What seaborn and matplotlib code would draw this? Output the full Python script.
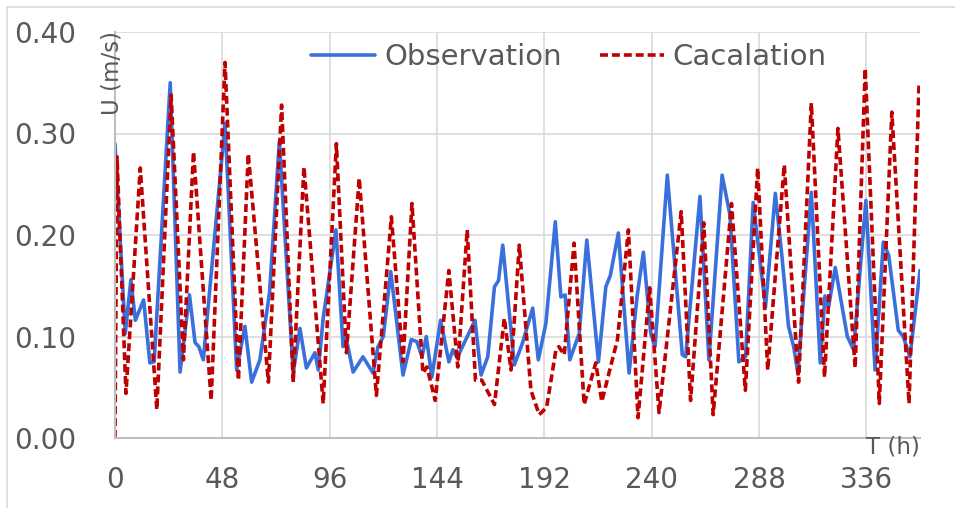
import numpy as np
import pandas as pd
import matplotlib
matplotlib.use("Agg")
import matplotlib.pyplot as plt
import seaborn as sns
from matplotlib.patches import Rectangle

# ---------------- data ----------------
obs_t = [0, 4.6, 7.1, 9.1, 12.8, 15.6, 17.5, 24.7, 29.1, 33.3, 35.8, 37.5, 39.5,
         49.2, 54.4, 58.1, 61.1, 64.8, 69.1, 73.5, 79.7, 82.7, 85.6, 89.4, 90.9,
         93.1, 98.8, 102, 103.2, 106.5, 110.9, 115.4, 117.6, 120.0, 123.3, 128.8,
         132.5, 135.0, 137.3, 139.2, 141.7, 145.6, 149.3, 151.1, 153, 161, 163.7,
         166.7, 169.7, 171.5, 173.4, 178.6, 182.3, 186.8, 189.3, 192.7, 196.9,
         199.4, 201.3, 203.4, 205.5, 207.6, 211, 216.2, 219.5, 221.5, 225.1,
         229.9, 233.5, 236.3, 239.6, 241.5, 247, 253.7, 255.2, 261.6, 265.6,
         271.5, 275, 279, 282, 285.4, 290.9, 295.3, 298.3, 301.2, 303.5, 305.4,
         311.4, 315.4, 317.5, 319.1, 322.1, 327.5, 330.3, 335.8, 339.9, 343.6,
         346, 350.3, 352.5, 355.5, 360]
obs_u = [0.29, 0.103, 0.156, 0.116, 0.136, 0.074, 0.075, 0.35, 0.065, 0.141, 0.094, 0.09, 0.077,
         0.31, 0.067, 0.11, 0.055, 0.077, 0.143, 0.292, 0.064, 0.108, 0.069, 0.084, 0.067,
         0.118, 0.205, 0.09, 0.1, 0.065, 0.08, 0.064, 0.09, 0.10, 0.164, 0.062,
         0.097, 0.095, 0.08, 0.1, 0.06, 0.116, 0.075, 0.087, 0.079, 0.116, 0.062,
         0.08, 0.149, 0.155, 0.19, 0.072, 0.094, 0.128, 0.077, 0.113, 0.213,
         0.139, 0.141, 0.077, 0.09, 0.103, 0.195, 0.075, 0.149, 0.16, 0.202,
         0.064, 0.14, 0.183, 0.103, 0.09, 0.259, 0.082, 0.08, 0.238, 0.077,
         0.259, 0.22, 0.075, 0.08, 0.232, 0.129, 0.241, 0.178, 0.11, 0.09, 0.064,
         0.242, 0.074, 0.14, 0.129, 0.168, 0.1, 0.087, 0.234, 0.067, 0.193,
         0.18, 0.106, 0.1, 0.08, 0.165]

cal_t = [0, 0.9, 4.9, 11.3, 18.7, 25.1, 30.6, 35.1, 43, 49.2, 55.2, 59.6, 68.6,
         74.5, 79.7, 84.5, 93.1, 99, 103.5, 109.2, 116.9, 123.6, 128.8, 132.8,
         137.7, 139.5, 143.2, 149.3, 153.3, 157.5, 161.2, 164, 169.7, 174.1,
         177.1, 180.8, 186, 189.7, 193, 197.2, 198.5, 200.9, 205.3, 209.8, 215,
         217.7, 224.7, 229.6, 233.9, 239.1, 243.3, 253.2, 257.4, 263.3, 267.5,
         275.7, 281.9, 287.4, 291.9, 299.3, 305.7, 311.4, 317.3, 323.3, 331,
         335.5, 341.8, 347.4, 355.1, 359.6]
cal_u = [0.0, 0.277, 0.044, 0.266, 0.028, 0.338, 0.077, 0.282, 0.037, 0.37, 0.057, 0.28, 0.055,
         0.328, 0.055, 0.267, 0.034, 0.29, 0.084, 0.256, 0.042, 0.218, 0.075, 0.231,
         0.064, 0.07, 0.037, 0.165, 0.07, 0.205, 0.057, 0.057, 0.033, 0.118,
         0.067, 0.19, 0.047, 0.023, 0.03, 0.087, 0.09, 0.082, 0.192, 0.033, 0.074,
         0.036, 0.097, 0.205, 0.02, 0.148, 0.025, 0.223, 0.037, 0.212, 0.023,
         0.231, 0.047, 0.266, 0.067, 0.269, 0.055, 0.33, 0.06, 0.305, 0.069,
         0.364, 0.034, 0.321, 0.034, 0.351]

series_names = ["Observation", "Cacalation"]
x_ticks = [0, 48, 96, 144, 192, 240, 288, 336]
y_ticks = [0.0, 0.1, 0.2, 0.3, 0.4]

df = pd.concat([
    pd.DataFrame({"T": obs_t, "U": obs_u, "series": series_names[0]}),
    pd.DataFrame({"T": cal_t, "U": cal_u, "series": series_names[1]}),
], ignore_index=True)

# ---------------- figure ----------------
sns.set_theme(style="white")
plt.rcParams["font.family"] = ["DejaVu Sans"]

fig = plt.figure(figsize=(9.55, 5.08), dpi=100)
ax = fig.add_axes([115/955, 1-438/508, 805/955, 406/508])

# outer chart border
fig.patches.append(Rectangle((7/955, -0.05), 1.1, 1-7/508+0.05, transform=fig.transFigure,
                             fill=False, edgecolor="#D9D9D9", linewidth=1.2))

grey = "#595959"
palette = {"Observation": "#3A70DC", "Cacalation": "#C00000"}
dashes = {"Observation": "", "Cacalation": (2.2, 1.1)}

sns.lineplot(data=df, x="T", y="U", hue="series", style="series",
             palette=palette, dashes=dashes, estimator=None, sort=False,
             linewidth=2.6, ax=ax, legend=True)

ax.set_xlim(0, 360)
ax.set_ylim(0, 0.40)
ax.set_xticks(x_ticks)
ax.set_yticks(y_ticks)
ax.set_yticklabels([f"{v:.2f}" for v in y_ticks])
ax.grid(True, color="#D9D9D9", linewidth=1.2)
ax.set_axisbelow(True)
for s in ["top", "right"]:
    ax.spines[s].set_visible(False)
for s in ["left", "bottom"]:
    ax.spines[s].set_color("#BFBFBF")
    ax.spines[s].set_linewidth(1.5)
ax.tick_params(axis="x", length=0, pad=20, labelsize=20, labelcolor=grey)
ax.tick_params(axis="y", length=0, pad=28, labelsize=20, labelcolor=grey)
ax.set_xlabel("")
ax.set_ylabel("")

ax.text(-0.004, 0.90, "U (m/s)", transform=ax.transAxes, rotation=90,
        ha="center", va="center", fontsize=16.5, color=grey)
ax.text(1.0, -0.022, "T (h)", transform=ax.transAxes,
        ha="right", va="center", fontsize=16.5, color=grey)

leg = ax.legend(loc="center", bbox_to_anchor=(0.564, 0.938), ncol=2, frameon=False,
                fontsize=21, handlelength=2.2, handletextpad=0.3, columnspacing=1.3,
                borderaxespad=0)
for t in leg.get_texts():
    t.set_color(grey)
for h in leg.get_lines():
    h.set_linewidth(2.6)

fig.savefig("out.png", dpi=100)
